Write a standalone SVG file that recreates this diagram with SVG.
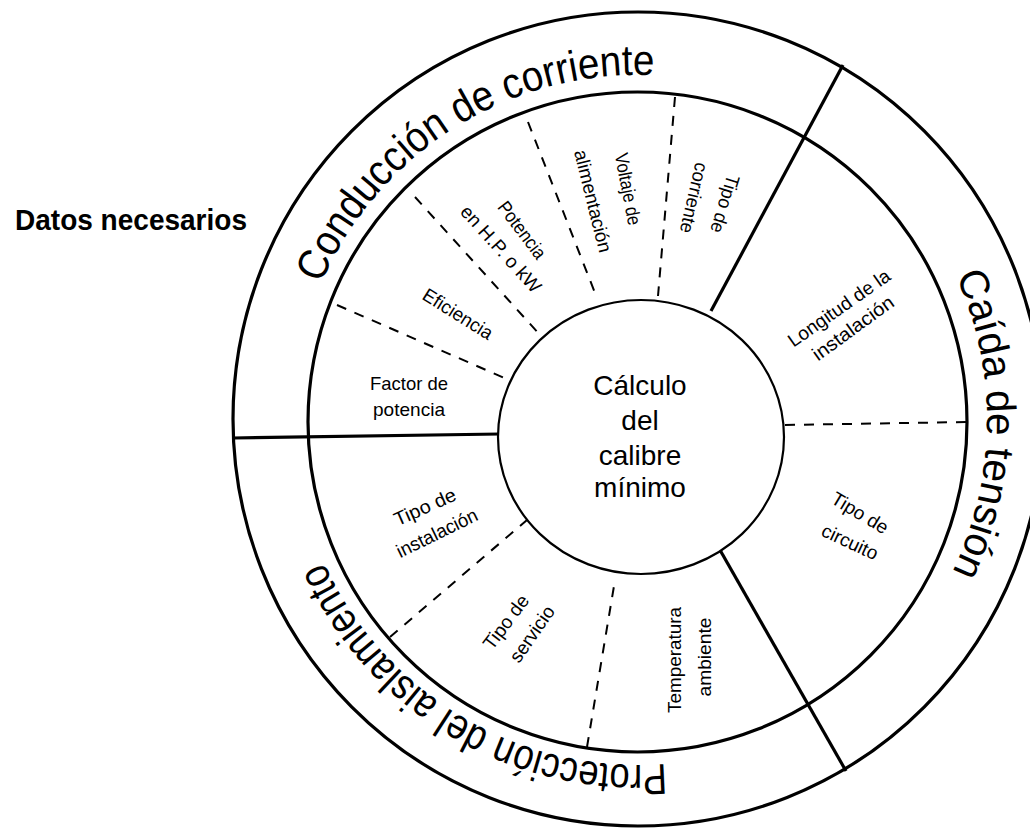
<svg xmlns="http://www.w3.org/2000/svg" width="1030" height="828" viewBox="0 0 1030 828">
  <style>
    .ring { fill: none; stroke: #000; stroke-width: 3.2; }
    .hub { fill: #fff; stroke: #000; stroke-width: 2.2; }
    .solid { stroke: #000; stroke-width: 3.2; fill: none; stroke-linecap: butt; }
    .dash { stroke: #000; stroke-width: 2; fill: none; stroke-dasharray: 10 9; }
    .band { font-family: "Liberation Sans", Arial, sans-serif; font-size: 43px; fill: #000; }
    .band-r { font-family: "Liberation Sans", Arial, sans-serif; font-size: 41px; fill: #000; }
    .lbl { font-family: "Liberation Sans", Arial, sans-serif; font-size: 19px; fill: #000; text-anchor: middle; dominant-baseline: central; }
    .hubtxt { font-family: "Liberation Sans", Arial, sans-serif; font-size: 28px; fill: #000; text-anchor: middle; }
    .title { font-family: "Liberation Sans", Arial, sans-serif; font-size: 30px; font-weight: bold; fill: #000; }
  </style>
  <defs>
    <!-- clockwise circles starting at the left, used as baselines for the band titles -->
    <path id="bandPath" d="M 293,420 A 345 345 0 0 1 983,420 A 345 345 0 0 1 293,420"/>
    <path id="bandPathRight" d="M 289,420 A 349 349 0 0 1 987,420 A 349 349 0 0 1 289,420"/>
  </defs>
  <rect width="1030" height="828" fill="#fff"/>

  <g id="title">
    <text class="title" x="15" y="230" textLength="232" lengthAdjust="spacingAndGlyphs">Datos necesarios</text>
  </g>

  <!-- rings -->
  <g id="rings">
    <ellipse class="ring" cx="638" cy="419" rx="405" ry="407"/>
    <ellipse class="ring" cx="637.5" cy="422" rx="329.5" ry="330"/>
  </g>

  <!-- dividers -->
  <g id="connectors">
    <line class="solid" x1="843" y1="65" x2="711" y2="311"/>
    <line class="solid" x1="720" y1="550" x2="846" y2="771"/>
    <line class="solid" x1="233" y1="438" x2="500" y2="434"/>
    <line class="dash" x1="785" y1="425" x2="967" y2="422"/>
    <line class="dash" x1="675" y1="97" x2="658" y2="296"/>
    <line class="dash" x1="528" y1="122" x2="597" y2="298"/>
    <line class="dash" x1="415" y1="197" x2="541" y2="336"/>
    <line class="dash" x1="337" y1="305" x2="509" y2="380"/>
    <line class="dash" x1="390" y1="637" x2="527" y2="520"/>
    <line class="dash" x1="587" y1="747" x2="615" y2="580"/>
  </g>

  <!-- central node -->
  <g id="hub">
    <ellipse class="hub" cx="641" cy="437" rx="143" ry="137"/>
    <text class="hubtxt" x="640" y="395">Cálculo</text>
    <text class="hubtxt" x="640" y="430">del</text>
    <text class="hubtxt" x="640" y="465">calibre</text>
    <text class="hubtxt" x="640" y="497">mínimo</text>
  </g>

  <!-- band titles -->
  <g id="band-conduccion">
    <text class="band"><textPath href="#bandPath" startOffset="16.11%" text-anchor="middle" textLength="418" lengthAdjust="spacingAndGlyphs">Conducción de corriente</textPath></text>
  </g>
  <g id="band-caida">
    <text class="band-r"><textPath href="#bandPathRight" startOffset="50.2%" text-anchor="middle" textLength="306" lengthAdjust="spacingAndGlyphs">Caída de tensión</textPath></text>
  </g>
  <g id="band-proteccion">
    <text class="band"><textPath href="#bandPath" startOffset="83.47%" text-anchor="middle" textLength="424" lengthAdjust="spacingAndGlyphs">Protección del aislamiento</textPath></text>
  </g>

  <!-- sector labels -->
  <g id="lbl-tipo-corriente">
    <text class="lbl" transform="translate(725,204) rotate(107)" textLength="60" lengthAdjust="spacingAndGlyphs">Tipo de</text>
    <text class="lbl" transform="translate(694,198) rotate(103)" textLength="72" lengthAdjust="spacingAndGlyphs">corriente</text>
  </g>
  <g id="lbl-voltaje">
    <text class="lbl" transform="translate(628,189) rotate(79)" textLength="73" lengthAdjust="spacingAndGlyphs">Voltaje de</text>
    <text class="lbl" transform="translate(593,201) rotate(76)" textLength="105" lengthAdjust="spacingAndGlyphs">alimentación</text>
  </g>
  <g id="lbl-potencia">
    <text class="lbl" transform="translate(522,230) rotate(53)" textLength="67" lengthAdjust="spacingAndGlyphs">Potencia</text>
    <text class="lbl" transform="translate(501,249) rotate(48)" textLength="110" lengthAdjust="spacingAndGlyphs">en H.P. o kW</text>
  </g>
  <g id="lbl-eficiencia">
    <text class="lbl" transform="translate(458,314) rotate(32)" textLength="79" lengthAdjust="spacingAndGlyphs">Eficiencia</text>
  </g>
  <g id="lbl-factor">
    <text class="lbl" transform="translate(409,383)" textLength="78" lengthAdjust="spacingAndGlyphs">Factor de</text>
    <text class="lbl" transform="translate(409,409)" textLength="72" lengthAdjust="spacingAndGlyphs">potencia</text>
  </g>
  <g id="lbl-instalacion">
    <text class="lbl" transform="translate(425,507) rotate(-24)" textLength="66" lengthAdjust="spacingAndGlyphs">Tipo de</text>
    <text class="lbl" transform="translate(437,533) rotate(-26)" textLength="88" lengthAdjust="spacingAndGlyphs">instalación</text>
  </g>
  <g id="lbl-servicio">
    <text class="lbl" transform="translate(506,622) rotate(-53)" textLength="63" lengthAdjust="spacingAndGlyphs">Tipo de</text>
    <text class="lbl" transform="translate(532,634) rotate(-55)" textLength="64" lengthAdjust="spacingAndGlyphs">servicio</text>
  </g>
  <g id="lbl-temperatura">
    <text class="lbl" transform="translate(674,660) rotate(-90)" textLength="106" lengthAdjust="spacingAndGlyphs">Temperatura</text>
    <text class="lbl" transform="translate(704,657) rotate(-90)" textLength="79" lengthAdjust="spacingAndGlyphs">ambiente</text>
  </g>
  <g id="lbl-longitud">
    <text class="lbl" transform="translate(839,308) rotate(-35)" textLength="120" lengthAdjust="spacingAndGlyphs">Longitud de la</text>
    <text class="lbl" transform="translate(853,328) rotate(-36)" textLength="96" lengthAdjust="spacingAndGlyphs">instalación</text>
  </g>
  <g id="lbl-circuito">
    <text class="lbl" transform="translate(860,513) rotate(31)" textLength="63" lengthAdjust="spacingAndGlyphs">Tipo de</text>
    <text class="lbl" transform="translate(850,542) rotate(25)" textLength="60" lengthAdjust="spacingAndGlyphs">circuito</text>
  </g>
</svg>
